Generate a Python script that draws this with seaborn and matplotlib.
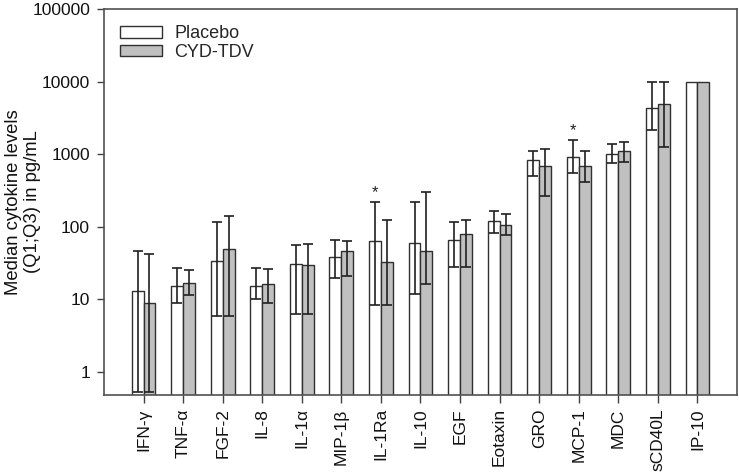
import matplotlib

matplotlib.use("Agg")
import matplotlib.pyplot as plt
import numpy as np
import pandas as pd
import seaborn as sns
from matplotlib.patches import Patch
from matplotlib.ticker import NullLocator

cytokines = ["IFN-γ", "TNF-α", "FGF-2", "IL-8", "IL-1α", "MIP-1β", "IL-1Ra", "IL-10",
             "EGF", "Eotaxin", "GRO", "MCP-1", "MDC", "sCD40L", "IP-10"]
groups = ["Placebo", "CYD-TDV"]

placebo_median = [13, 15.4, 34, 15.4, 31, 38, 63, 59, 65, 118, 820, 900, 1015, 4370, 10000]
placebo_q1 = [0.53, 8.9, 5.8, 10, 6.2, 19.8, 8.4, 11.9, 28, 83, 505, 545, 760, 2170, np.nan]
placebo_q3 = [45.6, 26.6, 115, 27, 56.6, 66, 220, 219, 116, 164, 1120, 1585, 1365, 10000, np.nan]

cyd_median = [8.9, 16.7, 48.6, 16.2, 29.6, 46.2, 32.2, 46.6, 80, 107, 680, 677, 1100, 4860, 10000]
cyd_q1 = [0.53, 11.4, 5.8, 8.9, 6.2, 20.6, 8.4, 16.2, 27.5, 78, 262, 408, 773, 1256, np.nan]
cyd_q3 = [42, 25.5, 139, 26.4, 58.3, 63.5, 125, 296, 122, 150, 1164, 1093, 1450, 10000, np.nan]

significant = ["IL-1Ra", "MCP-1"]  # placebo bars marked with *

PALETTE = {"Placebo": "#ffffff", "CYD-TDV": "#c0c0c0"}
EDGE = "#303030"

sns.set_style("ticks")
plt.rcParams["font.family"] = ["Liberation Sans", "DejaVu Sans"]

frame = pd.DataFrame({
    "cytokine": cytokines * 2,
    "group": ["Placebo"] * len(cytokines) + ["CYD-TDV"] * len(cytokines),
    "median": placebo_median + cyd_median,
    "q1": placebo_q1 + cyd_q1,
    "q3": placebo_q3 + cyd_q3,
})

fig = plt.figure(figsize=(7.39, 4.73), dpi=100)
ax = fig.add_axes([0.1407, 0.165, 0.8566, 0.816])

sns.barplot(
    data=frame,
    x="cytokine",
    y="median",
    hue="group",
    hue_order=groups,
    order=cytokines,
    palette=PALETTE,
    saturation=1,
    width=0.6,
    errorbar=None,
    edgecolor=EDGE,
    linewidth=1.0,
    legend=False,
    ax=ax,
)
ax.set_yscale("log")

# interquartile error bars at the bar centres
for container, grp in zip(ax.containers, groups):
    sub = frame[frame["group"] == grp].set_index("cytokine").loc[cytokines]
    xs = np.array([p.get_x() + p.get_width() / 2 for p in container.patches])
    med = sub["median"].to_numpy()
    lo = sub["q1"].to_numpy()
    hi = sub["q3"].to_numpy()
    ok = ~np.isnan(lo)
    ax.errorbar(xs[ok], med[ok], yerr=[med[ok] - lo[ok], hi[ok] - med[ok]],
                fmt="none", ecolor="#202020", elinewidth=1.2, capsize=3.5, capthick=1.2)
    if grp == "Placebo":
        for name in significant:
            i = cytokines.index(name)
            ax.text(xs[i], hi[i] * 1.05, "*", ha="center", va="bottom", fontsize=12, color="#202020")

ax.set_xlim(-1, 15)
ax.set_ylim(0.48, 100000)
ax.set_yticks([1, 10, 100, 1000, 10000, 100000])
ax.set_yticklabels(["1", "10", "100", "1000", "10000", "100000"])
ax.yaxis.set_minor_locator(NullLocator())
ax.set_xticks(range(len(cytokines)))
ax.set_xticklabels(cytokines, rotation=90)
ax.tick_params(axis="both", direction="out", length=5, width=1, color="#404040",
               labelsize=12.5, labelcolor="#111111")
ax.tick_params(axis="x", length=6)
ax.tick_params(axis="y", pad=5)

ax.set_xlabel("")
ax.set_ylabel("Median cytokine levels\n(Q1;Q3) in pg/mL", fontsize=13.3, color="#111111")
ax.yaxis.set_label_coords(-0.099, 0.5)

for side in ["left", "right", "top", "bottom"]:
    ax.spines[side].set_visible(True)
    ax.spines[side].set_color("#505050")
    ax.spines[side].set_linewidth(1.2)

handles = [Patch(facecolor=PALETTE[g], edgecolor=EDGE, linewidth=1.0, label=g) for g in groups]
ax.legend(handles=handles, loc="upper left", frameon=False, fontsize=13,
          handlelength=2.3, handleheight=0.6, labelspacing=0.1, handletextpad=0.7,
          borderaxespad=0.5, bbox_to_anchor=(0.0, 1.0))

fig.savefig("out.png", dpi=100)
